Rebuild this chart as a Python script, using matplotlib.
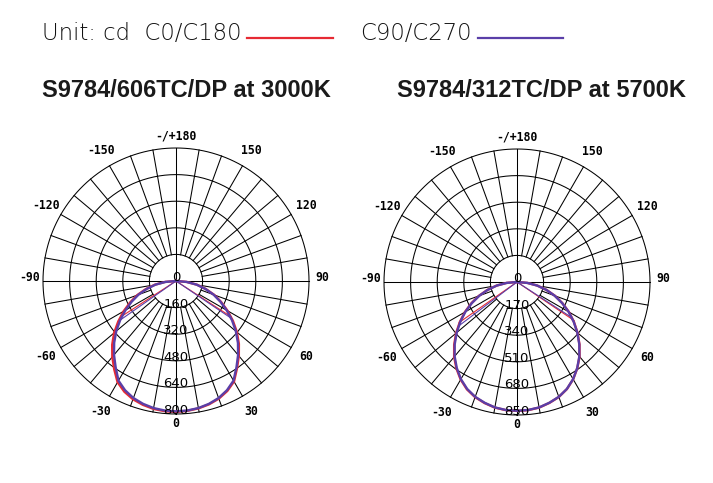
import numpy as np
import matplotlib.pyplot as plt
from matplotlib.lines import Line2D

# gamma angles from nadir (deg), one half-plane
gamma = [0, 5, 10, 15, 20, 25, 30, 35, 40, 45, 50, 55, 60, 65, 70, 75, 80, 85, 90]

# S9784/606TC/DP at 3000K (cd)
left_c0 = [786, 784, 778, 768, 753, 730, 698, 640, 588, 535, 478, 418, 358, 300, 245, 185, 128, 65, 0]
left_c180 = [788, 786, 781, 771, 757, 735, 703, 648, 596, 543, 486, 424, 364, 304, 248, 188, 130, 66, 0]
left_c90 = [784, 782, 776, 765, 749, 725, 692, 634, 581, 527, 470, 411, 352, 295, 241, 182, 126, 64, 0]
left_c270 = [784, 782, 776, 765, 749, 725, 692, 633, 580, 526, 469, 410, 351, 294, 240, 181, 125, 64, 0]
left_ticks = [0, 160, 320, 480, 640, 800]
left_chord_gamma_red = [-57, 57]
left_chord_red = [390, 395]
left_chord_gamma_pur = [-55, 56]
left_chord_pur = [405, 395]

# S9784/312TC/DP at 5700K (cd)
right_c0 = [824, 822, 815, 800, 782, 755, 718, 672, 622, 565, 505, 444, 383, 320, 258, 195, 132, 67, 0]
right_c180 = [824, 822, 815, 801, 783, 757, 720, 675, 625, 568, 508, 446, 385, 322, 259, 196, 133, 67, 0]
right_c90 = [823, 821, 814, 799, 781, 754, 717, 671, 620, 563, 503, 442, 381, 318, 256, 194, 131, 66, 0]
right_c270 = [823, 821, 814, 799, 781, 754, 717, 671, 620, 563, 503, 442, 381, 318, 256, 194, 131, 66, 0]
right_ticks = [0, 170, 340, 510, 680, 850]
right_chord_gamma_red = [-55, 56]
right_chord_red = [450, 440]
right_chord_gamma_pur = [-53, 57]
right_chord_pur = [455, 410]

angle_labels = ["0", "30", "60", "90", "120", "150", "-/+180", "-150", "-120", "-90", "-60", "-30"]

RED = "#e62a33"
PURPLE = "#5a3fa8"
W, H = 713, 483

fig = plt.figure(figsize=(W / 100, H / 100), dpi=100)


def draw_panel(rect, ticks, c0, c180, c90, c270, cg_red, cr_red, cg_pur, cr_pur):
    ax = fig.add_axes(rect, projection="polar")
    ax.set_theta_zero_location("S")
    ax.set_theta_direction(1)
    rmax = ticks[-1]
    ax.set_ylim(0, rmax)
    ax.axis("off")

    # grid: rings and spokes (spokes start at first ring except main axes)
    full = np.linspace(0, 2 * np.pi, 361)
    for r in ticks[1:]:
        ax.plot(full, np.full_like(full, r), color="k", lw=0.75, clip_on=False)
    for a in range(0, 360, 10):
        r0 = 0 if a % 90 == 0 else ticks[1]
        ax.plot([np.radians(a)] * 2, [r0, rmax], color="k", lw=0.75, clip_on=False)

    for i, lab in enumerate(angle_labels):
        a = i * 30
        va = "center"
        if a in (90, 270):
            rf, va = 1.10, "baseline"
        elif a == 180:
            rf = 1.09
        elif a == 0:
            rf = 1.07
        else:
            rf = 1.13
        ax.text(np.radians(a), rmax * rf, lab, ha="center", va=va,
                fontsize=8.3, fontweight="bold", family="DejaVu Sans Mono")
    for t in ticks:
        ax.text(0, t, str(t), ha="center", va="baseline", fontsize=9.5)

    g = np.array(gamma)
    th = np.radians(np.concatenate([-g[::-1], g[1:]]))
    red = list(c180[::-1]) + list(c0[1:])
    pur = list(c270[::-1]) + list(c90[1:])

    for ga, v in zip(cg_red, cr_red):
        ax.plot([np.radians(ga), 0], [v, 0], color=RED, lw=0.8)
    ax.plot(th, red, color=RED, lw=1.7)
    for ga, v in zip(cg_pur, cr_pur):
        ax.plot([np.radians(ga), 0], [v, 0], color=PURPLE, lw=0.8)
    ax.plot(th, pur, color=PURPLE, lw=1.7)


draw_panel([43 / W, 69 / H, 266 / W, 266 / H], left_ticks,
           left_c0, left_c180, left_c90, left_c270,
           left_chord_gamma_red, left_chord_red, left_chord_gamma_pur, left_chord_pur)
draw_panel([384 / W, 68 / H, 266 / W, 266 / H], right_ticks,
           right_c0, right_c180, right_c90, right_c270,
           right_chord_gamma_red, right_chord_red, right_chord_gamma_pur, right_chord_pur)

# header legend
fig.text(42 / W, 1 - 40 / H, "Unit: cd  C0/C180", va="baseline", fontsize=16.4,
         color="#111111", fontweight="light")
fig.add_artist(Line2D([247 / W, 333 / W], [1 - 38 / H] * 2, transform=fig.transFigure,
                      color=RED, lw=1.6))
fig.text(360 / W, 1 - 40 / H, "C90/C270", va="baseline", fontsize=16.4,
         color="#111111", fontweight="light")
fig.add_artist(Line2D([478 / W, 563 / W], [1 - 38 / H] * 2, transform=fig.transFigure,
                      color=PURPLE, lw=1.6))

# titles
fig.text(42 / W, 1 - 97 / H, "S9784/606TC/DP at 3000K", va="baseline",
         fontsize=17, fontweight="bold", family="Liberation Sans", color="#1a1a1a")
fig.text(397 / W, 1 - 97 / H, "S9784/312TC/DP at 5700K", va="baseline",
         fontsize=17, fontweight="bold", family="Liberation Sans", color="#1a1a1a")

fig.savefig("out.png", dpi=100)
